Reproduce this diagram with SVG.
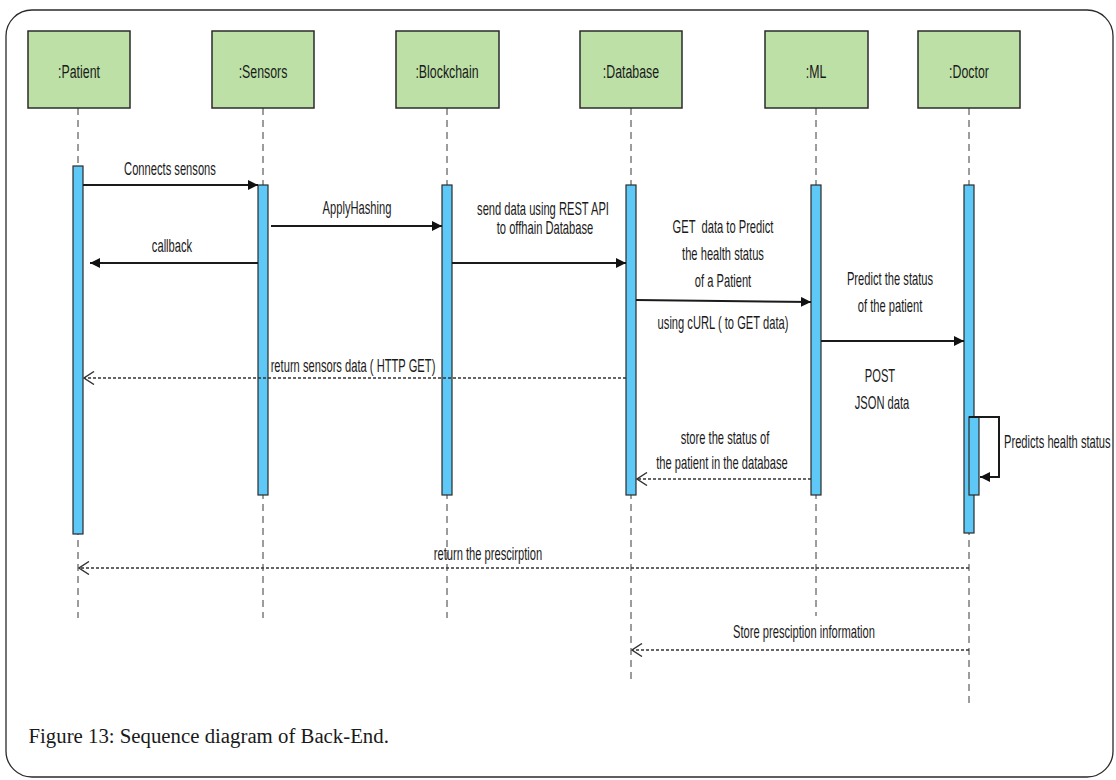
<svg xmlns="http://www.w3.org/2000/svg" width="1116" height="780" viewBox="0 0 1116 780">
  <style>
    .frame { fill: #ffffff; stroke: #2a2a2a; stroke-width: 1.3; }
    .head { fill: #bde0a6; stroke: #2b2b2b; stroke-width: 1.5; }
    .hdr { font-family: "Liberation Sans", Arial, sans-serif; font-size: 19px; fill: #1a1a1a; text-anchor: middle; }
    .msg { font-family: "Liberation Sans", Arial, sans-serif; font-size: 18px; fill: #1a1a1a; text-anchor: middle; }
    .msgl { font-family: "Liberation Sans", Arial, sans-serif; font-size: 18px; fill: #1a1a1a; text-anchor: start; }
    .caption { font-family: "Liberation Serif", "Times New Roman", serif; font-size: 20.8px; fill: #1a1a1a; }
    .life { stroke: #3a3a3a; stroke-width: 1; stroke-dasharray: 7 5; fill: none; }
    .act { fill: #5ec9f7; stroke: #2b2b2b; stroke-width: 1.2; }
    .call { stroke: #1a1a1a; stroke-width: 2; fill: none; marker-end: url(#solid); }
    .ret { stroke: #333333; stroke-width: 1.6; stroke-dasharray: 3 2; fill: none; marker-end: url(#open); }
  </style>
  <defs>
    <marker id="solid" viewBox="0 0 10 10" refX="10" refY="5" markerWidth="10" markerHeight="10" markerUnits="userSpaceOnUse" orient="auto">
      <path d="M0,0 L10,5 L0,10 Z" fill="#111111"/>
    </marker>
    <marker id="open" viewBox="0 0 12 14" refX="11" refY="7" markerWidth="12" markerHeight="14" markerUnits="userSpaceOnUse" orient="auto">
      <path d="M1,0.5 L11,7 L1,13.5" fill="none" stroke="#333333" stroke-width="1.4"/>
    </marker>
  </defs>

  <!-- outer panel -->
  <rect class="frame" x="6" y="10" width="1107" height="767" rx="26" ry="26"/>

  <!-- lifelines -->
  <g id="lifelines">
    <line class="life" x1="78" y1="108" x2="78" y2="618"/>
    <line class="life" x1="263" y1="108" x2="263" y2="618"/>
    <line class="life" x1="447" y1="108" x2="447" y2="618"/>
    <line class="life" x1="631" y1="108" x2="631" y2="684"/>
    <line class="life" x1="816" y1="108" x2="816" y2="616"/>
    <line class="life" x1="969" y1="108" x2="969" y2="703"/>
  </g>

  <!-- participants -->
  <g id="patient">
    <rect class="head" x="28" y="31" width="102" height="77"/>
    <text class="hdr" transform="translate(79,78) scale(0.65,1)">:Patient</text>
    <rect class="act" x="73" y="166" width="10" height="368"/>
  </g>
  <g id="sensors">
    <rect class="head" x="212" y="31" width="102" height="77"/>
    <text class="hdr" transform="translate(263,78) scale(0.65,1)">:Sensors</text>
    <rect class="act" x="258" y="185" width="10" height="310"/>
  </g>
  <g id="blockchain">
    <rect class="head" x="396" y="31" width="103" height="77"/>
    <text class="hdr" transform="translate(447,78) scale(0.65,1)">:Blockchain</text>
    <rect class="act" x="442" y="185" width="10" height="310"/>
  </g>
  <g id="database">
    <rect class="head" x="580" y="31" width="102" height="77"/>
    <text class="hdr" transform="translate(631,78) scale(0.65,1)">:Database</text>
    <rect class="act" x="626" y="185" width="10" height="310"/>
  </g>
  <g id="ml">
    <rect class="head" x="765" y="31" width="103" height="77"/>
    <text class="hdr" transform="translate(816,78) scale(0.65,1)">:ML</text>
    <rect class="act" x="811" y="185" width="10" height="310"/>
  </g>
  <g id="doctor">
    <rect class="head" x="918" y="31" width="102" height="77"/>
    <text class="hdr" transform="translate(969,78) scale(0.65,1)">:Doctor</text>
    <rect class="act" x="964" y="185" width="10" height="348"/>
    <rect class="act" x="969" y="417" width="10" height="78"/>
  </g>

  <!-- messages -->
  <g id="connectors">
    <line class="call" x1="83" y1="185" x2="258" y2="185"/>
    <line class="call" x1="271" y1="226" x2="442" y2="226"/>
    <line class="call" x1="258" y1="263" x2="90" y2="263"/>
    <line class="call" x1="452" y1="263" x2="626" y2="263"/>
    <line class="call" x1="636" y1="300" x2="811" y2="302"/>
    <line class="call" x1="821" y1="341" x2="964" y2="341"/>
    <path class="call" d="M969,417 H999 V477 H980"/>
    <line class="ret" x1="626" y1="378" x2="84" y2="378"/>
    <line class="ret" x1="811" y1="479" x2="637" y2="479"/>
    <line class="ret" x1="969" y1="568" x2="79" y2="568"/>
    <line class="ret" x1="969" y1="650" x2="632" y2="650"/>
  </g>

  <!-- message labels -->
  <g id="labels">
    <text class="msg" transform="translate(170,175) scale(0.62,1)">Connects sensons</text>
    <text class="msg" transform="translate(357,214) scale(0.62,1)">ApplyHashing</text>
    <text class="msg" transform="translate(172,252) scale(0.62,1)">callback</text>
    <text class="msg" transform="translate(543,215) scale(0.62,1)">send data using REST API</text>
    <text class="msg" transform="translate(545,234) scale(0.62,1)">to offhain Database</text>
    <text class="msg" xml:space="preserve" transform="translate(723,233) scale(0.62,1)">GET  data to Predict</text>
    <text class="msg" transform="translate(723,260) scale(0.62,1)">the health status</text>
    <text class="msg" transform="translate(723,287) scale(0.62,1)">of a Patient</text>
    <text class="msg" transform="translate(723,329) scale(0.62,1)">using cURL ( to GET data)</text>
    <text class="msg" transform="translate(890,285) scale(0.62,1)">Predict the status</text>
    <text class="msg" transform="translate(890,312) scale(0.62,1)">of the patient</text>
    <text class="msg" transform="translate(880,382) scale(0.62,1)">POST</text>
    <text class="msg" transform="translate(882,409) scale(0.62,1)">JSON data</text>
    <text class="msg" transform="translate(353,372) scale(0.62,1)">return sensors data ( HTTP GET)</text>
    <text class="msg" transform="translate(725,444) scale(0.62,1)">store the status of</text>
    <text class="msg" transform="translate(722,469) scale(0.62,1)">the patient in the database</text>
    <text class="msgl" transform="translate(1004,448) scale(0.62,1)">Predicts health status</text>
    <text class="msg" transform="translate(488,560) scale(0.62,1)">return the prescirption</text>
    <text class="msg" transform="translate(804,638) scale(0.62,1)">Store presciption information</text>
  </g>

  <text class="caption" x="28.5" y="743">Figure 13: Sequence diagram of Back-End.</text>
</svg>
